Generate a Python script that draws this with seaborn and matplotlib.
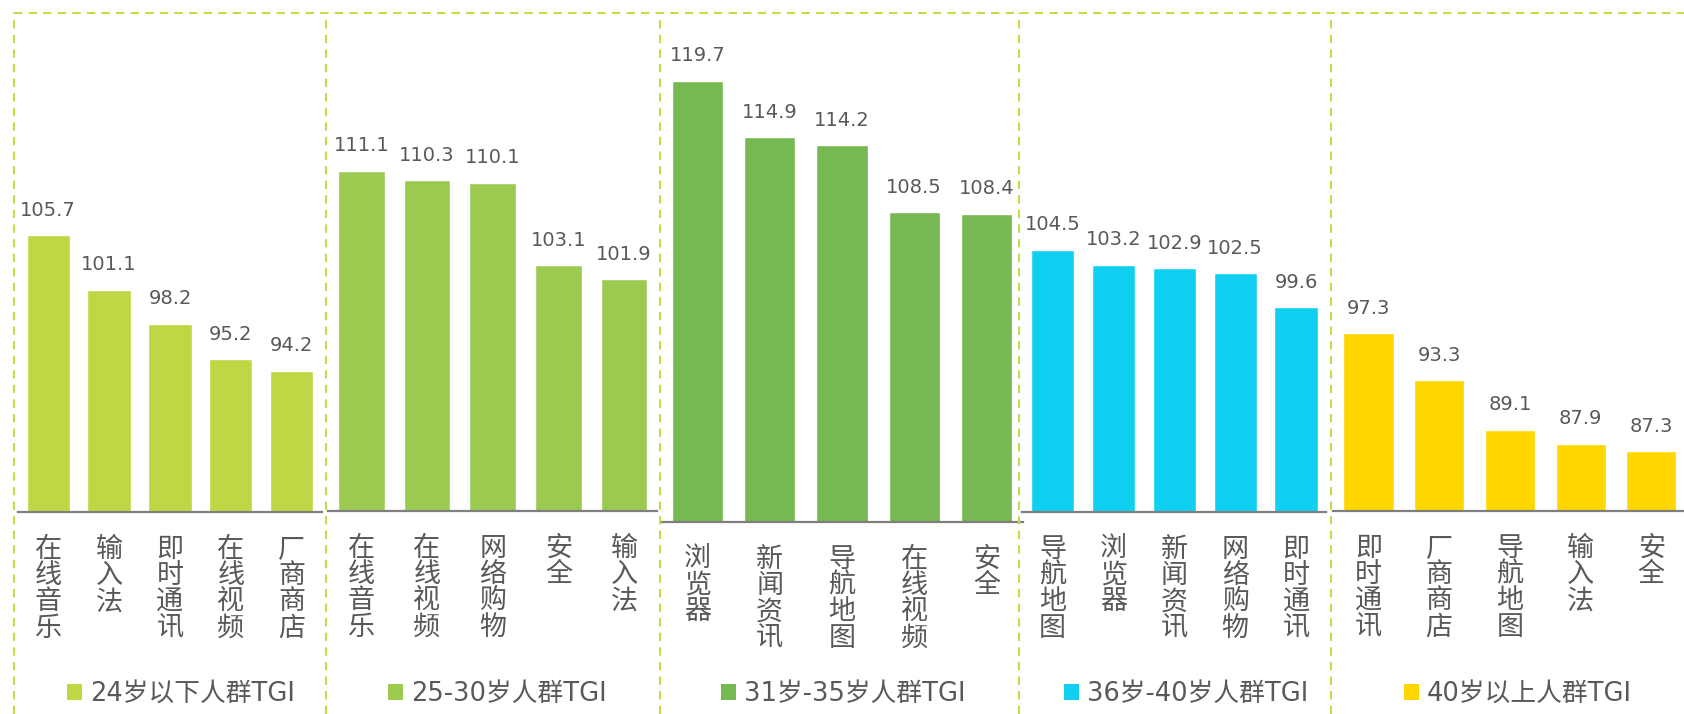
import matplotlib
matplotlib.use('Agg')
import matplotlib.pyplot as plt
import seaborn as sns
from matplotlib.lines import Line2D
from matplotlib.patches import Patch

# data
GROUPS = ['24岁以下人群TGI', '25-30岁人群TGI', '31岁-35岁人群TGI', '36岁-40岁人群TGI', '40岁以上人群TGI']

CATS_U24 = ['在线音乐', '输入法', '即时通讯', '在线视频', '厂商商店']
VALS_U24 = [105.7, 101.1, 98.2, 95.2, 94.2]

CATS_25_30 = ['在线音乐', '在线视频', '网络购物', '安全', '输入法']
VALS_25_30 = [111.1, 110.3, 110.1, 103.1, 101.9]

CATS_31_35 = ['浏览器', '新闻资讯', '导航地图', '在线视频', '安全']
VALS_31_35 = [119.7, 114.9, 114.2, 108.5, 108.4]

CATS_36_40 = ['导航地图', '浏览器', '新闻资讯', '网络购物', '即时通讯']
VALS_36_40 = [104.5, 103.2, 102.9, 102.5, 99.6]

CATS_O40 = ['即时通讯', '厂商商店', '导航地图', '输入法', '安全']
VALS_O40 = [97.3, 93.3, 89.1, 87.9, 87.3]

CATEGORIES = [CATS_U24, CATS_25_30, CATS_31_35, CATS_36_40, CATS_O40]
VALUES = [VALS_U24, VALS_25_30, VALS_31_35, VALS_36_40, VALS_O40]

COLORS = ['#BED744', '#9CCA50', '#76B852', '#10D0F2', '#FFD600']
TEXT_COLOR = '#595959'
DASH_COLOR = '#C5DC4A'

W, H = 1684, 714
# panel layout in pixels: (left, right, top, bottom)
AX_BOX = [(17.7, 322.2, 20, 512), (328.4, 657.0, 20, 511), (661.4, 1022.6, 30, 522),
          (1022.3, 1326.4, 20, 512), (1333.2, 1686.7, 20, 511)]
LEG_X = [181, 497, 843, 1186, 1518]
SEP_X = [14, 326, 660, 1019, 1331]

sns.set_theme(style='white')
plt.rcParams['font.family'] = ['DejaVu Sans', 'Noto Sans CJK SC']

fig = plt.figure(figsize=(W / 100, H / 100), dpi=100)

for k in range(5):
    x0, x1, top, bot = AX_BOX[k]
    ax = fig.add_axes([x0 / W, 1 - bot / H, (x1 - x0) / W, (bot - top) / H])
    sns.barplot(x=CATEGORIES[k], y=VALUES[k], color=COLORS[k], saturation=1, width=0.71, ax=ax)
    ax.set_ylim(82.2, 82.2 + (bot - top) / 11.77)
    ax.set_xlim(-0.5, 4.5)
    for s in ['top', 'left', 'right']:
        ax.spines[s].set_visible(False)
    ax.spines['bottom'].set_color('#7F7F7F')
    ax.spines['bottom'].set_linewidth(1.6)
    ax.set_yticks([])
    ax.set_xlabel('')
    ax.set_ylabel('')
    ax.set_xticks(range(len(CATEGORIES[k])))
    ax.set_xticklabels(['\n'.join(c) for c in CATEGORIES[k]], fontsize=19.5, color=TEXT_COLOR,
                       family=['Noto Sans CJK SC'], fontweight='medium', linespacing=0.97)
    ax.tick_params(axis='x', length=0, pad=17)
    ax.patch.set_alpha(0)

    for i, v in enumerate(VALUES[k]):
        ax.annotate(f'{v:.1f}', (i, v), xytext=(0, 14), textcoords='offset points',
                    ha='center', va='baseline', fontsize=14, color=TEXT_COLOR)

    handle = Patch(facecolor=COLORS[k], edgecolor='none')
    ax.legend([handle], [GROUPS[k]], loc='center', bbox_to_anchor=(LEG_X[k] / W, 20 / H),
              bbox_transform=fig.transFigure, frameon=False, fontsize=18.5,
              handlelength=0.6, handleheight=0.6, handletextpad=0.3, labelcolor=TEXT_COLOR)

# dashed frame lines
dash = dict(color=DASH_COLOR, lw=1.5, linestyle=(0, (4, 3)))
fig.add_artist(Line2D([SEP_X[0] / W, 1], [1 - 13 / H, 1 - 13 / H], transform=fig.transFigure, **dash))
for x in SEP_X:
    fig.add_artist(Line2D([x / W, x / W], [0, 1 - 13 / H], transform=fig.transFigure, **dash))

fig.savefig('out.png', dpi=100)
